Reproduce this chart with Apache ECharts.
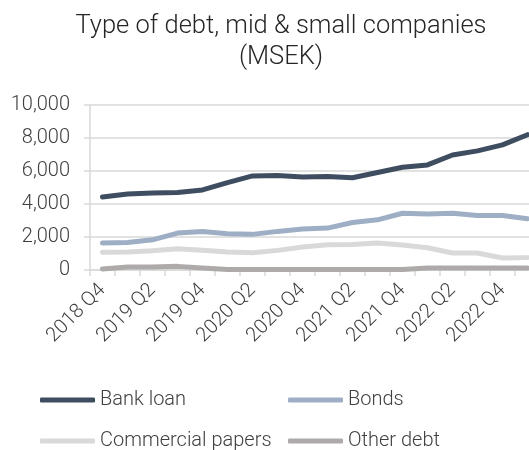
<!DOCTYPE html>
<html>
<head>
<meta charset="utf-8">
<script src="https://cdn.jsdelivr.net/npm/echarts@6/dist/echarts.min.js"></script>
<style>
  html, body { margin: 0; padding: 0; background: #fff; overflow: hidden; }
  /* the last quarter and the second legend row run past the edges of the view */
  #chart { width: 541px; height: 460px; }
</style>
</head>
<body>
<div id="chart"></div>
<script>
// Quarterly debt by type, MSEK
const quarters = [
  '2018 Q4', '2019 Q1', '2019 Q2', '2019 Q3', '2019 Q4', '2020 Q1',
  '2020 Q2', '2020 Q3', '2020 Q4', '2021 Q1', '2021 Q2', '2021 Q3',
  '2021 Q4', '2022 Q1', '2022 Q2', '2022 Q3', '2022 Q4', '2023 Q1'
];
const bankLoan = [4420, 4600, 4660, 4700, 4850, 5300, 5700, 5720, 5630, 5670, 5590, 5910, 6230, 6370, 6970, 7220, 7580, 8200];
const bonds = [1630, 1670, 1830, 2240, 2330, 2200, 2160, 2340, 2480, 2540, 2880, 3040, 3440, 3400, 3440, 3300, 3300, 3110];
const commercialPapers = [1070, 1090, 1170, 1290, 1190, 1090, 1050, 1190, 1390, 1530, 1550, 1630, 1510, 1350, 1030, 1030, 730, 750];
const otherDebt = [60, 180, 180, 220, 120, 30, 30, 30, 30, 30, 30, 30, 30, 120, 120, 120, 120, 120];
const yTicks = [0, 2000, 4000, 6000, 8000, 10000];

const FONT = 'Roboto';
const TEXT = '#404040';
const AXIS = '#d9d9d9';

const seriesDefs = [
  { name: 'Bank loan', data: bankLoan, color: '#3f4d61' },
  { name: 'Bonds', data: bonds, color: '#9eafc5' },
  { name: 'Commercial papers', data: commercialPapers, color: '#d9d9d9' },
  { name: 'Other debt', data: otherDebt, color: '#aeaaaa' }
];

const legendText = { fontFamily: FONT, fontWeight: 300, fontSize: 20, color: TEXT, lineHeight: 20 };

const legendBase = {
  orient: 'vertical', top: 390, itemGap: 21, padding: 0,
  itemWidth: 55, itemHeight: 5, icon: 'roundRect',
  textStyle: legendText
};

const chart = echarts.init(document.getElementById('chart'), null, { renderer: 'canvas' });
chart.setOption({
  animation: false,
  backgroundColor: '#fff',
  title: {
    text: 'Type of debt, mid & small companies\n(MSEK)',
    left: 281,
    textAlign: 'center',
    top: 11,
    padding: 0,
    textStyle: { fontFamily: FONT, fontWeight: 300, fontSize: 25.5, lineHeight: 31, color: '#262626' }
  },
  legend: [
    Object.assign({}, legendBase, { left: 40, data: ['Bank loan', 'Commercial papers'] }),
    Object.assign({}, legendBase, { left: 288, data: ['Bonds', 'Other debt'] })
  ],
  grid: { left: 90, right: 1, top: 105, bottom: 190 },
  xAxis: {
    type: 'category',
    data: quarters,
    boundaryGap: true,
    axisLine: { lineStyle: { color: AXIS, width: 1.5 } },
    axisTick: { show: true, interval: 0, length: 6, lineStyle: { color: AXIS, width: 1.5 } },
    axisLabel: {
      interval: 1, rotate: 45, margin: 17,
      fontFamily: FONT, fontWeight: 300, fontSize: 20, color: TEXT
    },
    splitLine: { show: false }
  },
  yAxis: {
    type: 'value',
    min: yTicks[0],
    max: yTicks[yTicks.length - 1],
    interval: yTicks[1] - yTicks[0],
    axisLine: { show: true, lineStyle: { color: AXIS, width: 1.5 } },
    axisTick: { show: true, length: 6, lineStyle: { color: AXIS, width: 1.5 } },
    axisLabel: {
      margin: 20,
      fontFamily: FONT, fontWeight: 300, fontSize: 20, color: TEXT,
      formatter: v => v.toLocaleString('en-US')
    },
    splitLine: { show: true, lineStyle: { color: AXIS, width: 1.5 } }
  },
  series: seriesDefs.map((s, i) => ({
    name: s.name,
    type: 'line',
    data: s.data,
    symbol: 'none',
    color: s.color,
    lineStyle: { color: s.color, width: 5, cap: 'round', join: 'round' },
    itemStyle: { color: s.color },
    z: 10 - i
  }))
});
</script>
</body>
</html>
